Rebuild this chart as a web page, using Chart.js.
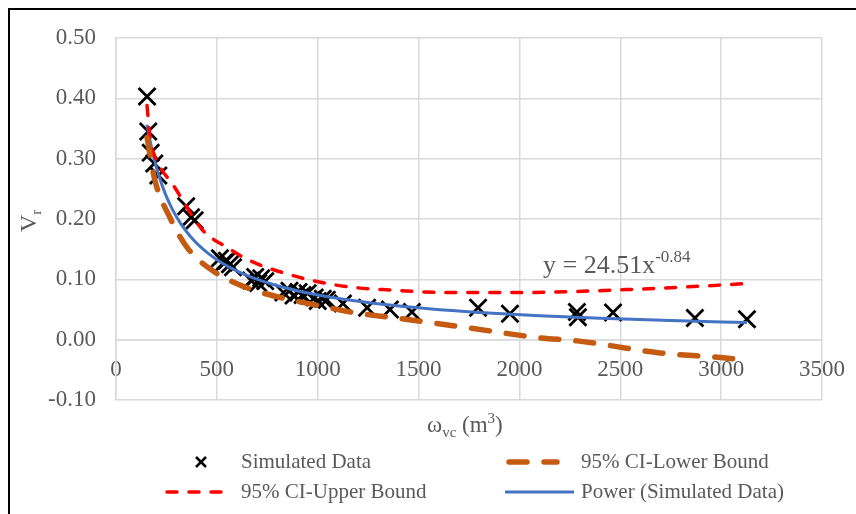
<!DOCTYPE html>
<html>
<head>
<meta charset="utf-8">
<script src="https://cdn.jsdelivr.net/npm/chart.js@4.4.1/dist/chart.umd.min.js"></script>
<style>
  html, body { margin: 0; padding: 0; background: #fff; }
  #wrap { position: relative; width: 856px; height: 514px; overflow: hidden; }
  #frame { position: absolute; left: 8px; top: 8px; width: 900px; height: 600px;
           border-left: 2px solid #000; border-top: 2px solid #000; }
  #chart { position: absolute; left: 0; top: 0; }
</style>
</head>
<body>
<div id="wrap">
  <div id="frame"></div>
  <canvas id="chart" width="856" height="514"></canvas>
</div>
<script>
const simX = [154, 160, 172, 190, 210, 348, 372, 390,
  515, 535, 550, 565, 580, 670, 690, 705, 720, 740,
  830, 860, 880, 905, 925, 950, 985, 1000, 1025, 1045,
  1125, 1245, 1358, 1467, 1795, 1953, 2285, 2290, 2464, 2870, 3128];
const simY = [0.403, 0.345, 0.310, 0.292, 0.272, 0.221, 0.203, 0.198,
  0.135, 0.128, 0.131, 0.125, 0.120, 0.098, 0.104, 0.094, 0.102, 0.097,
  0.078, 0.081, 0.073, 0.079, 0.074, 0.077, 0.070, 0.064, 0.068, 0.066,
  0.060, 0.053, 0.050, 0.046, 0.053, 0.043, 0.046, 0.037, 0.045, 0.036, 0.034];

const upperX = [154, 169, 210, 278, 431, 550, 664, 848, 1046, 1195, 1324, 1656, 1988, 2286, 2533, 2861, 3128];
const upperY = [0.388, 0.335, 0.292, 0.259, 0.181, 0.153, 0.131, 0.109, 0.093, 0.086, 0.083, 0.078, 0.078, 0.080, 0.083, 0.088, 0.093];

const lowerX = [154, 193, 268, 352, 481, 650, 813, 1011, 1175, 1408, 1740, 2102, 2286, 2697, 3010, 3128];
const lowerY = [0.335, 0.264, 0.202, 0.153, 0.114, 0.086, 0.070, 0.056, 0.045, 0.035, 0.020, 0.003, -0.002, -0.022, -0.030, -0.034];

// power trendline y = 24.51 x^-0.84
const fitA = 24.51;
const fitB = -0.84;
const fitX = [154, 170, 190, 215, 245, 280, 320, 370, 430, 500, 580, 680, 800, 950,
  1120, 1320, 1550, 1800, 2100, 2400, 2750, 3128];

const xMin = 0, xMax = 3500, xStep = 500;
const yMin = -0.1, yMax = 0.5, yStep = 0.1;

const GREY = '#595959';
const SERIF = "'Liberation Serif', 'Times New Roman', serif";

const pts = (xs, ys) => xs.map((x, i) => ({ x, y: ys[i] }));

const datasets = [
  {
    label: '95% CI-Lower Bound',
    data: pts(lowerX, lowerY),
    showLine: true,
    borderColor: '#C55A11',
    borderWidth: 5.5,
    borderDash: [18, 17],
    borderCapStyle: 'round',
    cubicInterpolationMode: 'monotone',
    pointRadius: 0
  },
  {
    label: '95% CI-Upper Bound',
    data: pts(upperX, upperY),
    showLine: true,
    borderColor: '#FF0000',
    borderWidth: 3.5,
    borderDash: [10, 12],
    borderCapStyle: 'round',
    cubicInterpolationMode: 'monotone',
    pointRadius: 0
  },
  {
    label: 'Power (Simulated Data)',
    data: fitX.map(x => ({ x, y: fitA * Math.pow(x, fitB) })),
    showLine: true,
    borderColor: '#4472C4',
    borderWidth: 3,
    cubicInterpolationMode: 'monotone',
    pointRadius: 0
  },
  {
    label: 'Simulated Data',
    data: pts(simX, simY),
    showLine: false,
    pointStyle: 'crossRot',
    pointRadius: 12,
    borderColor: '#000',
    borderWidth: 2.8
  }
];

// titles, trendline equation and legend drawn over the plot
const extras = {
  id: 'extras',
  afterDraw(chart) {
    const ctx = chart.ctx;
    ctx.save();
    ctx.fillStyle = GREY;
    ctx.textBaseline = 'alphabetic';

    // x axis title: ω_vc (m³)
    let x = 427, y = 432;
    ctx.font = `23px ${SERIF}`;
    ctx.fillText('\u03C9', x, y); x += ctx.measureText('\u03C9').width;
    ctx.font = `15px ${SERIF}`;
    ctx.fillText('vc', x, y + 5); x += ctx.measureText('vc').width;
    ctx.font = `23px ${SERIF}`;
    ctx.fillText(' (m', x, y); x += ctx.measureText(' (m').width;
    ctx.font = `15px ${SERIF}`;
    ctx.fillText('3', x, y - 9); x += ctx.measureText('3').width;
    ctx.font = `23px ${SERIF}`;
    ctx.fillText(')', x, y);

    // y axis title: V_r
    ctx.save();
    ctx.translate(36, 232);
    ctx.rotate(-Math.PI / 2);
    ctx.font = `24px ${SERIF}`;
    ctx.fillText('V', 0, 0);
    const vw = ctx.measureText('V').width;
    ctx.font = `15px ${SERIF}`;
    ctx.fillText('r', vw, 5);
    ctx.restore();

    // trendline equation
    x = 543; y = 273;
    ctx.font = `26px ${SERIF}`;
    const eq = `y = ${fitA}x`;
    ctx.fillText(eq, x, y); x += ctx.measureText(eq).width;
    ctx.font = `17px ${SERIF}`;
    ctx.fillText(fitB.toFixed(2), x, y - 11);

    // legend
    ctx.font = `21px ${SERIF}`;
    ctx.textBaseline = 'middle';
    const rows = [462, 492];
    const line = (ds, x0, x1, yy) => {
      ctx.save();
      ctx.strokeStyle = ds.borderColor;
      ctx.lineWidth = ds.borderWidth;
      ctx.lineCap = ds.borderCapStyle || 'butt';
      ctx.setLineDash(ds.borderDash || []);
      ctx.beginPath();
      ctx.moveTo(x0, yy);
      ctx.lineTo(x1, yy);
      ctx.stroke();
      ctx.restore();
    };
    const [low, up, pow, sim] = chart.data.datasets;
    // Simulated Data marker
    ctx.save();
    ctx.strokeStyle = '#000';
    ctx.lineWidth = 2.5;
    ctx.beginPath();
    ctx.moveTo(196, rows[0] - 5); ctx.lineTo(206, rows[0] + 5);
    ctx.moveTo(206, rows[0] - 5); ctx.lineTo(196, rows[0] + 5);
    ctx.stroke();
    ctx.restore();
    ctx.fillText(sim.label, 241, rows[0]);

    line(low, 509, 557, rows[0]);
    ctx.fillText(low.label, 581, rows[0]);

    line(up, 167, 232, rows[1]);
    ctx.fillText(up.label, 241, rows[1]);

    line(pow, 505, 574, rows[1]);
    ctx.fillText(pow.label, 581, rows[1]);

    ctx.restore();
  }
};

new Chart(document.getElementById('chart'), {
  type: 'scatter',
  data: { datasets },
  options: {
    responsive: false,
    animation: false,
    layout: { padding: { left: 0, top: 38, right: 34, bottom: 114 } },
    plugins: { legend: { display: false }, tooltip: { enabled: false } },
    scales: {
      x: {
        type: 'linear',
        position: { y: 0 },
        min: xMin,
        max: xMax,
        afterFit: s => { s.height = 0; s.paddingRight = 0; s.paddingLeft = 0; },
        ticks: {
          stepSize: xStep,
          autoSkip: false,
          maxRotation: 0,
          padding: 16,
          color: GREY,
          font: { family: SERIF, size: 23 },
          callback: v => String(v)
        },
        grid: { color: '#D9D9D9', lineWidth: 1.5, drawTicks: false },
        border: { color: '#D9D9D9', width: 1.5 }
      },
      y: {
        min: yMin,
        max: yMax,
        afterFit: s => { s.width = 116; },
        ticks: {
          stepSize: yStep,
          padding: 20,
          color: GREY,
          font: { family: SERIF, size: 23 },
          callback: v => (Math.abs(v) < 1e-9 ? 0 : v).toFixed(2)
        },
        grid: { color: '#D9D9D9', lineWidth: 1.5, drawTicks: false },
        border: { color: '#D9D9D9', width: 1.5 }
      }
    }
  },
  plugins: [extras]
});
</script>
</body>
</html>
